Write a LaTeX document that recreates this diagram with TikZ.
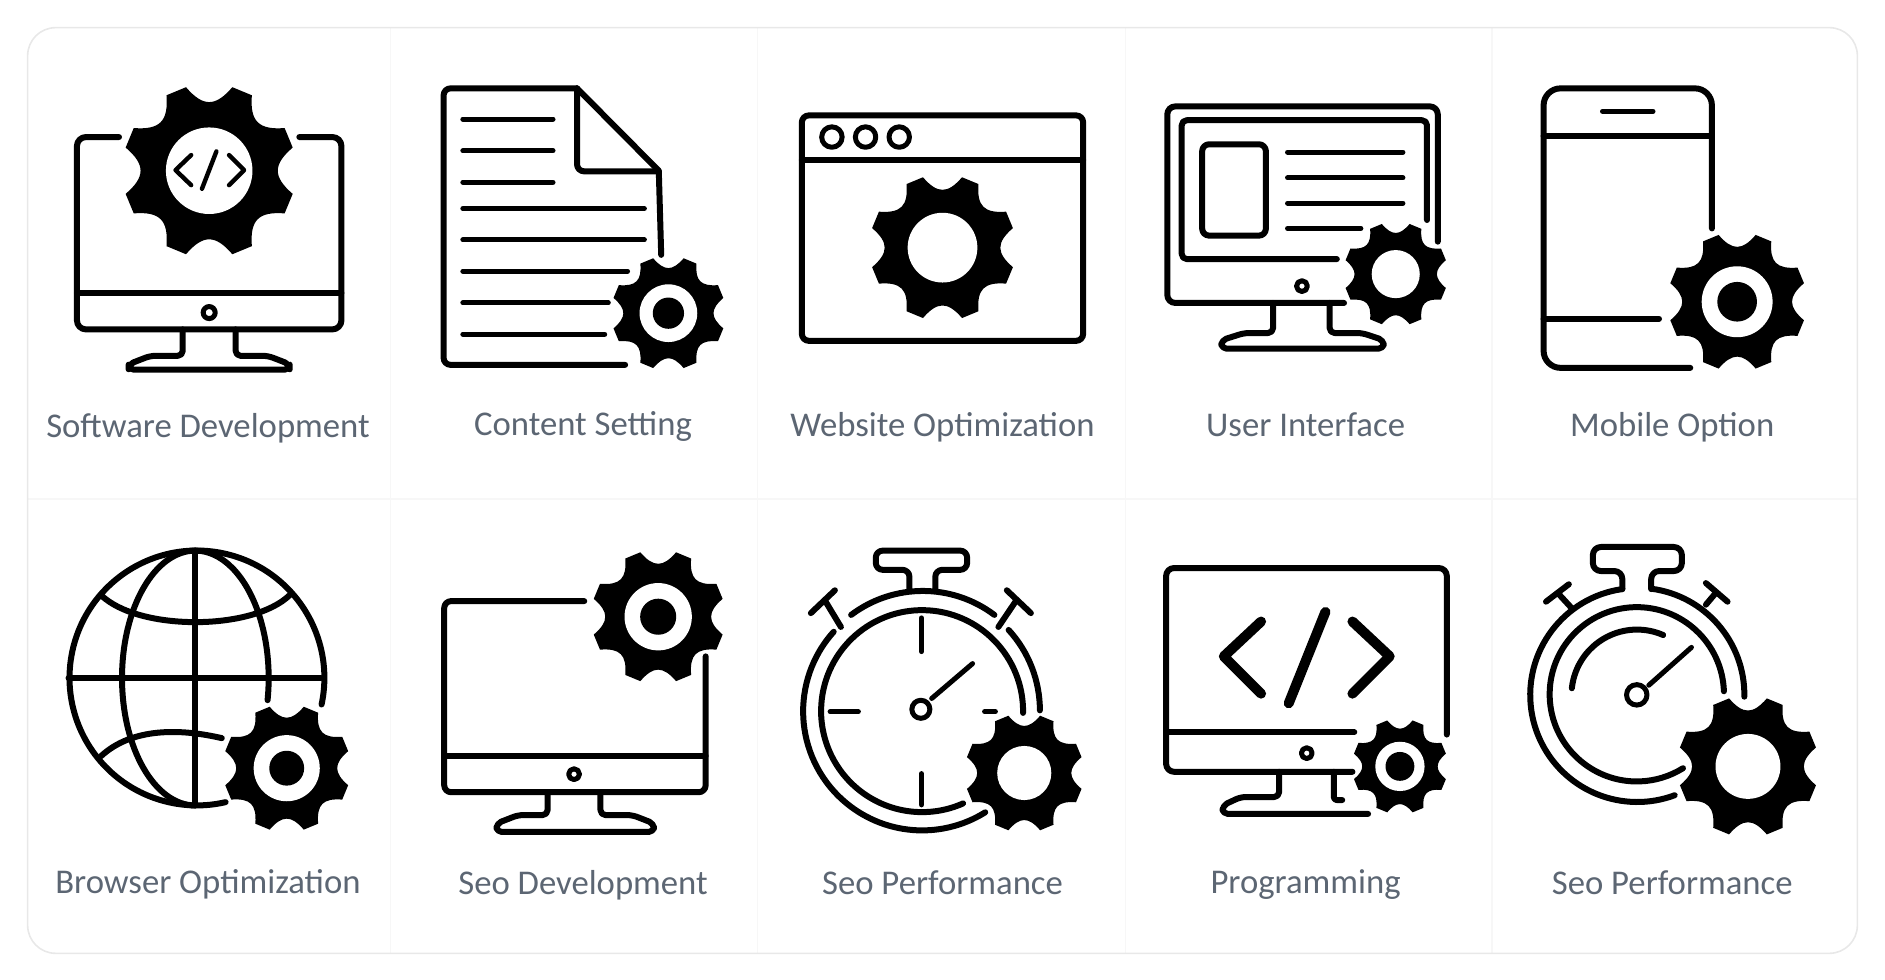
\documentclass[tikz,border=0pt]{standalone}
\usepackage{fontspec}
\setmainfont{Carlito}
\usepackage{tikz}

\definecolor{labelgray}{HTML}{5C6673}
\definecolor{cardedge}{HTML}{E8E8E8}
\definecolor{celledge}{HTML}{F7F7F7}

\tikzset{
  iconline/.style={line width=6pt, line cap=round, line join=round},
  thinline/.style={line width=5pt, line cap=round, line join=round},
  codeline/.style={line width=4.4pt, line cap=round, line join=round},
  boldline/.style={line width=10pt, line cap=round, line join=round},
  iconlabel/.style={anchor=base, text=labelgray, font=\fontsize{34.7}{40}\selectfont, inner sep=0pt}
}

\newcommand{\gearicon}[5]{
  \begin{scope}[shift={(#1,#2)}]
    \fill (15.5:1.03*#3) \foreach \a in {22.5,67.5,...,337.5} {
      -- (\a-7:1.03*#3) -- (\a+7:1.03*#3) .. controls (\a+17:.76*#3) and (\a+28:.76*#3) .. (\a+38:1.03*#3)
    } -- cycle;
    \fill[white] (0,0) circle (#4);
    \ifdim#5pt>0pt \fill (0,0) circle (#5); \fi
  \end{scope}
}

\begin{document}
\begin{tikzpicture}[x=1.2022pt, y=-1.2022pt]
\useasboundingbox (0,0) rectangle (1568,815);

\draw[celledge, line width=1.2pt] (325,23) -- (325,793);
\draw[celledge, line width=1.2pt] (630,23) -- (630,793);
\draw[celledge, line width=1.2pt] (936,23) -- (936,793);
\draw[celledge, line width=1.2pt] (1241,23) -- (1241,793);
\draw[celledge, line width=1.2pt] (23,415) -- (1545,415);
\draw[cardedge, line width=1.6pt, rounded corners=28pt] (23,23) rectangle (1545,793);

\draw[iconline, rounded corners=9pt] (99,114) -- (64,114) -- (64,274) -- (284,274) -- (284,114) -- (249,114);
\draw[iconline] (64,243.5) -- (284,243.5);
\draw[thinline] (174,260) circle (5);
\draw[iconline, rounded corners=5pt] (152,274) -- (152,296) -- (125,296) -- (107,303) -- (107,307.5) -- (241,307.5) -- (241,303) -- (223,296) -- (196,296) -- (196,274);
\gearicon{174}{142}{70}{36}{0}
\draw[codeline] (159,129) -- (146,141.5) -- (159,154);
\draw[codeline] (180,126) -- (168,157);
\draw[codeline] (190.5,129) -- (203,141.5) -- (190.5,154);
\node[iconlabel] (softwarelabel) at (173,364) {Software Development};

\draw[iconline, rounded corners=7pt] (520,303.5) -- (369,303.5) -- (369,73.5) -- (480,73.5);
\draw[iconline] (480,73.5) -- (548,142) -- (550,212);
\draw[iconline, rounded corners=7pt] (480,73.5) -- (480,142.5) -- (548,142.5);
\draw[thinline] (385,99) -- (460,99);
\draw[thinline] (385,125.5) -- (460,125.5);
\draw[thinline] (385,151.5) -- (460,151.5);
\draw[thinline] (385,173.5) -- (536,173.5);
\draw[thinline] (385,199.5) -- (536,199.5);
\draw[thinline] (385,225.5) -- (522,225.5);
\draw[thinline] (385,252) -- (506,252);
\draw[thinline] (385,278) -- (503,278);
\gearicon{556}{260.5}{46}{24}{13}
\node[iconlabel] (contentlabel) at (485,362.5) {Content Setting};

\draw[iconline, rounded corners=7pt] (667,96) rectangle (901,283.5);
\draw[iconline] (667,133) -- (901,133);
\draw[thinline] (692,114) circle (8.5);
\draw[thinline] (720,114) circle (8.5);
\draw[thinline] (748,114) circle (8.5);
\gearicon{784}{206}{59}{29}{0}
\node[iconlabel] (websitelabel) at (784,363) {Website Optimization};

\draw[iconline, rounded corners=8pt] (1118,252) -- (971,252) -- (971,88.5) -- (1196,88.5) -- (1196,201);
\draw[iconline, rounded corners=5pt] (1112,215.5) -- (983,215.5) -- (983,100) -- (1187,100) -- (1187,183);
\draw[iconline, rounded corners=7pt] (1000,120) rectangle (1053,196);
\draw[thinline] (1071,126.5) -- (1167,126.5);
\draw[thinline] (1071,148) -- (1167,148);
\draw[thinline] (1071,169) -- (1167,169);
\draw[thinline] (1071,190) -- (1132,190);
\draw[thinline] (1083,238) circle (4.5);
\draw[iconline, rounded corners=5pt] (1059,252) -- (1059,277) -- (1035,277) -- (1016,283) -- (1016,290) -- (1151,290) -- (1151,283) -- (1133,277) -- (1106,277) -- (1106,252);
\gearicon{1161}{228}{42}{20}{0}
\node[iconlabel] (interfacelabel) at (1086,363) {User Interface};

\draw[iconline, rounded corners=17pt] (1406,306) -- (1284,306) -- (1284,73.5) -- (1424,73.5) -- (1424,190);
\draw[iconline] (1284,113.5) -- (1424,113.5);
\draw[iconline] (1284,265) -- (1380,265);
\draw[thinline] (1333,92.5) -- (1375,92.5);
\gearicon{1445}{251}{56}{29.5}{16.5}
\node[iconlabel] (mobilelabel) at (1391,363) {Mobile Option};

\draw[iconline] (267.5,586) arc[start angle=12, end angle=-283, radius=106];
\draw[iconline] (57,564) -- (267,564);
\draw[iconline] (162.5,458) -- (162.5,670);
\draw[iconline] (162.5,670) arc[start angle=90, end angle=270, x radius=61, y radius=106];
\draw[iconline] (162.5,458) arc[start angle=-90, end angle=10, x radius=61, y radius=106];
\draw[iconline] (84,495) .. controls (115,525) and (210,525) .. (241,495);
\draw[iconline] (84,629) .. controls (110,605) and (150,606) .. (184.5,614);
\gearicon{238.5}{639}{51.5}{27.5}{14.5}
\node[iconlabel] (browserlabel) at (173,743) {Browser Optimization};

\draw[iconline, rounded corners=7pt] (486,500) -- (369.5,500) -- (369.5,659) -- (587,659) -- (587,546);
\draw[iconline] (369.5,628.5) -- (587,628.5);
\draw[thinline] (477.5,644) circle (4.5);
\draw[iconline, rounded corners=5pt] (455.5,659) -- (455.5,678) -- (431,678) -- (413,685) -- (413,692) -- (544,692) -- (544,685) -- (526,678) -- (499.5,678) -- (499.5,659);
\gearicon{547.5}{513}{54}{28}{15}
\node[iconlabel] (seodevlabel) at (485,744) {Seo Development};

\draw[iconline] (851,593) arc[start angle=1, end angle=-294, radius=84];
\draw[iconline] (708,511.5) arc[start angle=-127, end angle=-53, radius=99];
\draw[iconline] (693.5,525.5) arc[start angle=-138, end angle=-302, radius=99];
\draw[iconline] (839,524) arc[start angle=-42.5, end angle=0, radius=99];
\draw[iconline, rounded corners=7pt] (756.5,491) -- (756.5,474) -- (728.5,474) -- (728.5,458) -- (804.5,458) -- (804.5,474) -- (778,474) -- (778,491);
\draw[iconline] (699.5,521.5) -- (686.5,500);
\draw[iconline] (674.5,510) -- (694.5,491);
\draw[iconline] (830.5,521.5) -- (845,500);
\draw[iconline] (837.5,491) -- (857.5,510);
\draw[thinline] (766,590) circle (7.5);
\draw[thinline] (775,581) -- (809,552);
\draw[thinline] (766.5,514) -- (766.5,542);
\draw[thinline] (766.5,643.5) -- (766.5,669.5);
\draw[thinline] (690.5,592) -- (714,592);
\draw[thinline] (819,592) -- (828,592);
\gearicon{852}{643}{48}{22.5}{0}
\node[iconlabel] (seoperflabel) at (784,744) {Seo Performance};

\draw[iconline, rounded corners=8pt] (1125,642) -- (970,642) -- (970,472.5) -- (1203.5,472.5) -- (1203.5,611);
\draw[iconline] (970,609) -- (1126.5,609);
\draw[thinline] (1087,626.5) circle (4.5);
\draw[iconline, rounded corners=5pt] (1064,642) -- (1064,663) -- (1032,663) -- (1017,670) -- (1017,677) -- (1138,677);
\draw[iconline, rounded corners=3pt] (1109.5,642) -- (1109.5,665.5) -- (1116.5,665.5);
\draw[boldline] (1049,517) -- (1018,546) -- (1049,577);
\draw[boldline] (1102.5,509) -- (1072,585);
\draw[boldline] (1125,517) -- (1156,546) -- (1125,577);
\gearicon{1164.5}{637.5}{38.5}{20.5}{12}
\node[iconlabel] (programlabel) at (1086,743) {Programming};

\draw[iconline] (1434,575) arc[start angle=-2, end angle=-302, radius=72.5];
\draw[iconline] (1451,579.5) arc[start angle=1, end angle=-82.5, radius=89];
\draw[iconline] (1349.5,490) arc[start angle=-98, end angle=-290.5, radius=89];
\draw[iconline, rounded corners=8pt] (1349.5,490) -- (1349.5,475) -- (1325,475) -- (1325,455) -- (1399,455) -- (1399,475) -- (1373.5,475) -- (1373.5,490);
\draw[iconline] (1307.5,506) -- (1296,493.5);
\draw[iconline] (1286,500.5) -- (1305,486);
\draw[iconline] (1419,503) -- (1427,493.5);
\draw[iconline] (1419,485) -- (1437,500.5);
\draw[iconline] (1307.5,572.5) arc[start angle=-174, end angle=-66.5, radius=54.5];
\draw[thinline] (1361.5,578) circle (8.5);
\draw[thinline] (1371.5,570) -- (1407,538.5);
\gearicon{1454}{637.5}{57}{27}{0}
\node[iconlabel] (seoperfbislabel) at (1391,744) {Seo Performance};
\end{tikzpicture}
\end{document}
